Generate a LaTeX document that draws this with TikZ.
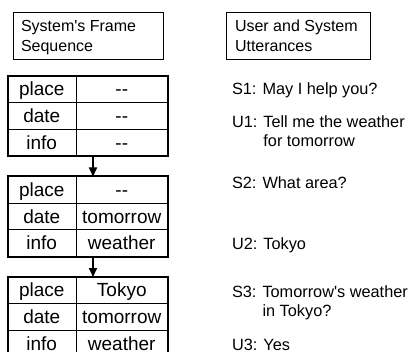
\documentclass[tikz,border=0pt]{standalone}
\usepackage{fontspec}
\setmainfont{Liberation Sans}
\usetikzlibrary{arrows.meta,fit}
\newcommand{\dd}{\mbox{-}\mbox{-}}
\newcommand{\ap}{\textquotesingle}
\begin{document}
\begin{tikzpicture}[x=1pt,y=-1pt,
  every node/.style={inner sep=0pt,outer sep=0pt},
  titlebox/.style={draw,line width=0.8pt,text height=19.7pt,text depth=27.3pt,
    font=\fontsize{16}{20}\selectfont},
  utt/.style={anchor=base west,font=\fontsize{16.3}{19}\selectfont},
  cell/.style={draw,line width=0.9pt,minimum height=26.7pt,text height=13pt,text depth=0pt,
    font=\fontsize{19}{19}\selectfont},
  keycell/.style={cell,minimum width=68.5pt},
  valcell/.style={cell,minimum width=91.5pt},
  frame/.style={draw,line width=2pt,inner sep=0pt},
  flow/.style={line width=2pt,-{Triangle[length=9pt,width=8pt]}}
]
\useasboundingbox (0,0) rectangle (414,352);
\clip (0,0) rectangle (414,352);
\fill[white] (0,0) rectangle (414,352);

% title boxes
\node[titlebox,inner xsep=8pt,anchor=north west] (tb1) at (13,12)
  {\makebox[134pt][l]{\begin{tabular}[t]{@{}l@{}}System\ap s Frame\\Sequence\end{tabular}}};
\node[titlebox,inner xsep=9pt,anchor=north west] (tb2) at (226,12)
  {\makebox[126pt][l]{\begin{tabular}[t]{@{}l@{}}User and System\\Utterances\end{tabular}}};

% frame 1
\node[keycell] (a1) at (41.75,89.35) {place};
\node[valcell] (b1) at (121.75,89.35) {\dd};
\node[keycell] (a2) at (41.75,116.05) {date};
\node[valcell] (b2) at (121.75,116.05) {\dd};
\node[keycell] (a3) at (41.75,142.75) {info};
\node[valcell] (b3) at (121.75,142.75) {\dd};
\node[frame,fit=(a1)(b3)] (f1) {};

% frame 2
\node[keycell] (c1) at (41.75,189.85) {place};
\node[valcell] (d1) at (121.75,189.85) {\dd};
\node[keycell] (c2) at (41.75,216.55) {date};
\node[valcell] (d2) at (121.75,216.55) {tomorrow};
\node[keycell] (c3) at (41.75,243.25) {info};
\node[valcell] (d3) at (121.75,243.25) {weather};
\node[frame,fit=(c1)(d3)] (f2) {};

% frame 3
\node[keycell] (e1) at (41.75,290.35) {place};
\node[valcell] (g1) at (121.75,290.35) {Tokyo};
\node[keycell] (e2) at (41.75,317.05) {date};
\node[valcell] (g2) at (121.75,317.05) {tomorrow};
\node[keycell] (e3) at (41.75,343.75) {info};
\node[valcell] (g3) at (121.75,343.75) {weather};
\node[frame,fit=(e1)(g3)] (f3) {};

% arrows
\coordinate (ax) at (93,0);
\draw[flow] (f1.south -| ax) -- (f2.north -| ax);
\draw[flow] (f2.south -| ax) -- (f3.north -| ax);

% utterances
\node[utt] (s1) at (232,95) {S1: May I help you?};
\node[utt] (u1) at (232,127.5)
  {\begin{tabular}[t]{@{}l@{ }l@{}}U1: & Tell me the weather\\ & for tomorrow\end{tabular}};
\node[utt] (s2) at (232,189) {S2: What area?};
\node[utt] (u2) at (232,249.5) {U2: Tokyo};
\node[utt] (s3) at (232,297.5)
  {\begin{tabular}[t]{@{}l@{ }l@{}}S3: & Tomorrow\ap s weather\\ & in Tokyo?\end{tabular}};
\node[utt] (u3) at (232,350.5) {U3: Yes};
\end{tikzpicture}
\end{document}
